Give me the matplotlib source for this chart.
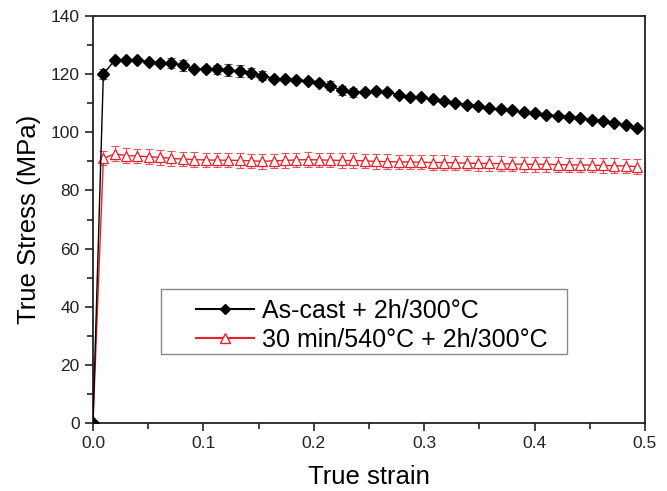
import matplotlib
matplotlib.use('Agg')
import matplotlib.pyplot as plt
from matplotlib.ticker import MultipleLocator
from matplotlib.lines import Line2D
from matplotlib.patches import Rectangle

plt.rcParams['font.family'] = ['Liberation Sans', 'DejaVu Sans']

# strain positions of the measured points (first point is the origin)
strain = [0.0, 0.0094, 0.0197, 0.0300, 0.0403, 0.0506, 0.0608, 0.0711, 0.0814,
          0.0917, 0.1020, 0.1123, 0.1226, 0.1328, 0.1431, 0.1534, 0.1637,
          0.1740, 0.1843, 0.1946, 0.2049, 0.2151, 0.2254, 0.2357, 0.2460,
          0.2562, 0.2665, 0.2768, 0.2871, 0.2974, 0.3077, 0.3180, 0.3282,
          0.3385, 0.3488, 0.3591, 0.3694, 0.3797, 0.3900, 0.4003, 0.4105,
          0.4208, 0.4311, 0.4414, 0.4517, 0.4620, 0.4723, 0.4826, 0.4926]

# As-cast + 2h/300C
stress_cast = [0.0, 120.0, 124.8, 124.9, 124.8, 124.3, 124.0, 123.8, 123.0,
               121.8, 121.8, 121.6, 121.5, 121.0, 120.5, 119.5, 118.5,
               118.2, 118.1, 117.6, 116.9, 116.0, 114.4, 113.8, 113.9,
               114.3, 113.9, 112.9, 112.3, 112.0, 111.3, 110.9, 110.2,
               109.5, 109.1, 108.4, 107.9, 107.7, 106.9, 106.5, 106.1,
               105.7, 105.3, 104.9, 104.3, 104.0, 103.2, 102.4, 101.6]
err_cast = [0.0, 1.6, 0.5, 0.5, 0.5, 0.6, 0.8, 1.8, 2.0,
            0.6, 1.0, 1.6, 2.0, 2.0, 1.5, 1.5, 1.0,
            0.6, 0.6, 0.8, 1.0, 1.5, 1.6, 1.5, 0.6,
            0.5, 0.5, 0.5, 0.5, 0.5, 0.5, 0.5, 0.5,
            0.5, 0.5, 0.5, 0.5, 0.5, 0.5, 0.5, 0.5,
            0.5, 0.5, 0.5, 0.5, 0.5, 0.5, 0.5, 0.5]

# 30 min/540C + 2h/300C
stress_sol = [0.0, 91.0, 92.6, 92.0, 91.8, 91.6, 91.4, 91.0, 90.8,
              90.6, 90.5, 90.4, 90.4, 90.3, 90.2, 90.0, 90.2,
              90.3, 90.5, 90.6, 90.5, 90.4, 90.3, 90.3, 90.2,
              90.0, 89.9, 89.8, 89.8, 89.7, 89.6, 89.6, 89.5,
              89.4, 89.3, 89.3, 89.2, 89.1, 89.0, 89.0, 89.0,
              88.9, 88.8, 88.8, 88.7, 88.6, 88.5, 88.4, 88.2]
err_sol = [0.0, 2.4, 2.6, 2.5, 2.5, 2.5, 2.5, 2.5, 2.5,
           2.5, 2.5, 2.5, 2.5, 2.5, 2.5, 2.5, 2.5,
           2.5, 2.5, 2.5, 2.5, 2.5, 2.5, 2.5, 2.5,
           2.5, 2.5, 2.5, 2.5, 2.5, 2.5, 2.5, 2.5,
           2.5, 2.5, 2.5, 2.5, 2.5, 2.5, 2.5, 2.5,
           2.5, 2.5, 2.5, 2.5, 2.5, 2.5, 2.5, 2.5]

labels = ['As-cast + 2h/300°C', '30 min/540°C + 2h/300°C']

RED = '#e8202a'

fig = plt.figure(figsize=(6.67, 4.91), dpi=100)
ax = fig.add_axes([0.1394, 0.1385, 0.8276, 0.8289])

# error bars first, then the curves on top
ax.errorbar(strain, stress_sol, yerr=err_sol, fmt='none', ecolor='#ea5058',
            elinewidth=0.8, capsize=3, capthick=0.8, zorder=2)
ax.errorbar(strain, stress_cast, yerr=err_cast, fmt='none', ecolor='#555555',
            elinewidth=0.8, capsize=3, capthick=0.8, zorder=2)

ax.plot(strain, stress_sol, color=RED, lw=1.0, marker='^',
        ms=7.8, mfc='white', mec=RED, mew=0.9, zorder=3)
ax.plot(strain, stress_cast, color='black', lw=1.0, marker='D',
        ms=6.0, mfc='black', mec='black', zorder=4)

ax.set_xlim(0, 0.5)
ax.set_ylim(0, 140)
ax.xaxis.set_major_locator(MultipleLocator(0.1))
ax.xaxis.set_minor_locator(MultipleLocator(0.05))
ax.yaxis.set_major_locator(MultipleLocator(20))
ax.yaxis.set_minor_locator(MultipleLocator(10))
ax.xaxis.set_major_formatter(plt.FuncFormatter(lambda v, p: f'{v:.1f}'))

ax.tick_params(which='both', direction='out', top=False, right=False,
               labelsize=12.5, width=1.2, colors='#222222')
ax.tick_params(which='major', length=6)
ax.tick_params(which='minor', length=4)
for s in ax.spines.values():
    s.set_linewidth(1.3)
    s.set_color('#222222')

ax.set_xlabel('True strain', fontsize=18.5, labelpad=10)
ax.set_ylabel('True Stress (MPa)', fontsize=18.5, labelpad=7)

# legend: entries without frame, box drawn separately
h1 = Line2D([], [], color='black', lw=1.5, marker='D', ms=5, mfc='black')
h2 = Line2D([], [], color=RED, lw=1.5, marker='^', ms=7, mfc='white',
            mec=RED, mew=1.0)
ax.legend([h1, h2], labels, loc='center', bbox_to_anchor=(0.5045, 0.2396),
          fontsize=18, handlelength=2.35, handletextpad=0.3,
          borderaxespad=0, borderpad=0, labelspacing=0.2, frameon=False)
ax.add_patch(Rectangle((0.123, 0.1695), 0.7355, 0.16, transform=ax.transAxes,
                       facecolor='white', edgecolor='#888888', lw=1.0,
                       zorder=4.5))

fig.savefig('out.png', dpi=100)
